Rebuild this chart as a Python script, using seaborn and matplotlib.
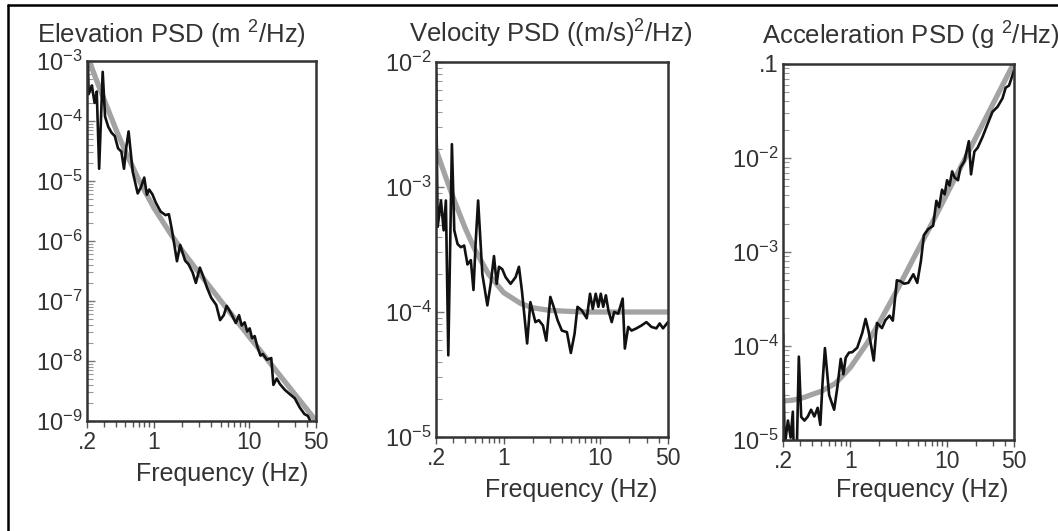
import math
import matplotlib
matplotlib.use("Agg")
import matplotlib.pyplot as plt
from matplotlib.lines import Line2D
from matplotlib.ticker import LogLocator, NullFormatter
import seaborn as sns

# measured spectra (same frequency bins in all three panels)
freq = [0.200, 0.208, 0.225, 0.240, 0.253, 0.268, 0.292, 0.309, 0.334, 0.361,
        0.391, 0.423, 0.458, 0.488, 0.515, 0.545, 0.603, 0.679, 0.735, 0.795,
        0.847, 0.895, 0.968, 1.048, 1.18, 1.33, 1.44, 1.55, 1.75, 1.89,
        2.13, 2.31, 2.55, 2.76, 3.04, 3.29, 3.61, 4.00, 4.51, 4.95,
        5.41, 5.80, 6.43, 7.23, 7.82, 8.34, 8.95, 9.53, 10.1, 10.7,
        11.4, 12.1, 13.1, 13.9, 15.3, 17.0, 17.9, 19.4, 21.0, 23.6,
        26.6, 29.9, 33.7, 37.9, 41.0, 44.4, 50.0]

elevation = [5.2e-3, 2.8e-4, 3.9e-4, 2.0e-4, 3.1e-4, 1.6e-5, 6.6e-4, 1.19e-4, 8.0e-5, 6.4e-5,
             5.6e-5, 3.5e-5, 3.1e-5, 1.6e-5, 3.6e-5, 6.7e-5, 1.41e-5, 6.2e-6, 7.9e-6, 1.14e-5,
             5.9e-6, 7.2e-6, 6.0e-6, 4.4e-6, 3.1e-6, 2.7e-6, 2.8e-6, 1.53e-6, 4.6e-7, 8.6e-7,
             4.7e-7, 4.1e-7, 3.0e-7, 2.0e-7, 3.6e-7, 2.6e-7, 1.67e-7, 1.13e-7, 8.6e-8, 4.8e-8,
             5.8e-8, 8.3e-8, 6.3e-8, 4.3e-8, 5.8e-8, 3.9e-8, 4.4e-8, 3.1e-8, 3.5e-8, 2.4e-8,
             2.6e-8, 1.78e-8, 1.23e-8, 1.31e-8, 1.05e-8, 1.12e-8, 4.0e-9, 5.1e-9, 4.1e-9, 3.3e-9,
             2.8e-9, 2.4e-9, 1.69e-9, 1.30e-9, 1.22e-9, 9.5e-10, 8.4e-10]

velocity = [8.2e-3, 4.8e-4, 7.8e-4, 4.5e-4, 7.8e-4, 4.5e-5, 2.2e-3, 4.5e-4, 3.5e-4, 3.3e-4,
            3.4e-4, 2.4e-4, 2.6e-4, 1.5e-4, 3.7e-4, 7.8e-4, 2.0e-4, 1.13e-4, 1.68e-4, 2.8e-4,
            1.68e-4, 2.3e-4, 2.2e-4, 1.9e-4, 1.68e-4, 1.9e-4, 2.3e-4, 1.45e-4, 5.6e-5, 1.2e-4,
            8.3e-5, 8.6e-5, 7.8e-5, 5.9e-5, 1.32e-4, 1.10e-4, 8.6e-5, 7.1e-5, 6.9e-5, 4.7e-5,
            6.7e-5, 1.10e-4, 1.03e-4, 8.9e-5, 1.40e-4, 1.06e-4, 1.40e-4, 1.10e-4, 1.40e-4, 1.10e-4,
            1.36e-4, 1.03e-4, 8.3e-5, 1.0e-4, 9.7e-5, 1.28e-4, 5.1e-5, 7.6e-5, 7.1e-5, 7.4e-5,
            7.8e-5, 8.3e-5, 7.6e-5, 7.4e-5, 8.1e-5, 7.4e-5, 8.3e-5]

acceleration = [1.35e-4, 8.5e-6, 1.61e-5, 1.06e-5, 2.0e-5, 1.33e-6, 7.7e-5, 1.76e-5, 1.61e-5, 1.77e-5,
                2.1e-5, 1.78e-5, 2.2e-5, 1.45e-5, 4.1e-5, 9.5e-5, 3.0e-5, 2.1e-5, 3.7e-5, 7.3e-5,
                5.0e-5, 7.5e-5, 8.5e-5, 8.6e-5, 9.6e-5, 1.38e-4, 1.94e-4, 1.42e-4, 7.0e-5, 1.76e-4,
                1.55e-4, 1.88e-4, 2.1e-4, 1.86e-4, 5.0e-4, 4.9e-4, 4.6e-4, 4.7e-4, 5.8e-4, 4.7e-4,
                8.1e-4, 1.51e-3, 1.75e-3, 1.90e-3, 3.5e-3, 3.0e-3, 4.6e-3, 4.1e-3, 5.8e-3, 5.1e-3,
                7.2e-3, 6.2e-3, 5.8e-3, 7.9e-3, 9.3e-3, 1.51e-2, 6.7e-3, 1.17e-2, 1.29e-2, 1.68e-2,
                2.3e-2, 3.1e-2, 3.5e-2, 4.3e-2, 5.6e-2, 5.9e-2, 8.5e-2]

# fitted model curves (grey)
fit_freq = [0.2, 0.25, 0.3, 0.35, 0.4, 0.5, 0.7, 1, 1.5, 2, 3, 5, 7, 10, 15, 20, 30, 50]
elevation_fit = [1.26e-3, 4.9e-4, 2.34e-4, 1.26e-4, 7.4e-5, 3.2e-5, 1.03e-5, 3.6e-6, 1.32e-6,
                 6.8e-7, 2.9e-7, 1.02e-7, 5.2e-8, 2.53e-8, 1.13e-8, 6.3e-9, 2.8e-9, 1.01e-9]
velocity_fit = [2.0e-3, 1.22e-3, 8.3e-4, 6.1e-4, 4.7e-4, 3.2e-4, 2.0e-4, 1.43e-4, 1.17e-4,
                1.08e-4, 1.03e-4, 1.01e-4, 1.0e-4, 1.0e-4, 1.0e-4, 1.0e-4, 1.0e-4, 1.0e-4]
acceleration_fit = [2.6e-5, 2.65e-5, 2.75e-5, 2.9e-5, 3.05e-5, 3.3e-5, 4.0e-5, 5.9e-5, 1.08e-4,
                    1.77e-4, 3.8e-4, 1.04e-3, 2.0e-3, 4.1e-3, 9.2e-3, 1.64e-2, 3.7e-2, 0.103]

titles = [r'Elevation PSD (m $^{2}$/Hz)', r'Velocity PSD ((m/s)$^{2}$/Hz)', r'Acceleration PSD (g $^{2}$/Hz)']
x_ticks = [0.2, 1, 10, 50]
x_tick_labels = ['.2', '1', '10', '50']
elev_yticks = [1e-9, 1e-8, 1e-7, 1e-6, 1e-5, 1e-4, 1e-3]
vel_yticks = [1e-5, 1e-4, 1e-3, 1e-2]
acc_yticks = [1e-5, 1e-4, 1e-3, 1e-2, 1e-1]
acc_ytick_labels = [r'$\mathdefault{10^{-5}}$', r'$\mathdefault{10^{-4}}$', r'$\mathdefault{10^{-3}}$',
                    r'$\mathdefault{10^{-2}}$', '.1']

sns.set_style("ticks")
plt.rcParams['font.family'] = ['Liberation Sans', 'DejaVu Sans']
plt.rcParams['mathtext.fontset'] = 'custom'
plt.rcParams['mathtext.rm'] = 'Liberation Sans'
plt.rcParams['mathtext.it'] = 'Liberation Sans:italic'

W, H = 1058, 531
TXT = '#333333'
fig = plt.figure(figsize=(W / 100, H / 100), dpi=100)

# panel boxes in pixels: left, right, top, bottom
boxes = [(87, 316, 61, 421), (436, 668, 62, 437), (783, 1014, 64, 440)]
panels = [
    (freq, elevation, elevation_fit, elev_yticks, None, (1e-9, 1e-3)),
    (freq, velocity, velocity_fit, vel_yticks, None, (1e-5, 1e-2)),
    (freq, acceleration, acceleration_fit, acc_yticks, acc_ytick_labels, (1e-5, 1e-1)),
]
title_pos = [(171, 35), (551, 34), (911, 36)]
xlabel_pos = [(222, 474), (571, 490), (922, 490)]

for i, (box, panel) in enumerate(zip(boxes, panels)):
    l, r, t, b = box
    ax = fig.add_axes([l / W, 1 - b / H, (r - l) / W, (b - t) / H])
    x, y, yfit, yt, ytl, ylim = panel

    sns.lineplot(x=fit_freq, y=yfit, ax=ax, color='#a3a3a3', lw=3.8, estimator=None, sort=False)
    sns.lineplot(x=x, y=y, ax=ax, color='#111111', lw=1.9, estimator=None, sort=False)

    ax.set_xscale('log')
    ax.set_yscale('log')
    ax.set_xlim(0.2, 50)
    ax.set_ylim(*ylim)

    ax.set_xticks(x_ticks, x_tick_labels)
    ax.xaxis.set_minor_locator(LogLocator(base=10, subs=(2, 3, 4, 5, 6, 7, 8, 9), numticks=50))
    ax.xaxis.set_minor_formatter(NullFormatter())
    if ytl is None:
        ytl = [r'$\mathdefault{10^{%d}}$' % round(math.log10(v)) for v in yt]
    ax.set_yticks(yt, ytl)
    ax.yaxis.set_minor_locator(LogLocator(base=10, subs=(2, 3, 4, 5, 6, 7, 8, 9), numticks=50))
    ax.yaxis.set_minor_formatter(NullFormatter())

    ax.tick_params(axis='x', direction='out', length=5, width=1, colors='#555555',
                   labelsize=16.5, labelcolor=TXT, pad=2)
    ax.tick_params(axis='x', which='minor', direction='out', length=4, width=1, colors='#555555')
    ax.tick_params(axis='y', direction='in', length=6, width=1, colors='#777777',
                   labelsize=17, labelcolor=TXT, pad=3)
    ax.tick_params(axis='y', which='minor', direction='in', length=4, width=0.8, colors='#999999')

    for s in ax.spines.values():
        s.set_color('#333333')
        s.set_linewidth(1.8)
    ax.set_xlabel('')
    ax.set_ylabel('')

    fig.text(title_pos[i][0] / W, 1 - title_pos[i][1] / H, titles[i], ha='center', va='center',
             fontsize=18.5, color=TXT)
    fig.text(xlabel_pos[i][0] / W, 1 - xlabel_pos[i][1] / H, 'Frequency (Hz)', ha='center',
             va='center', fontsize=18, color=TXT)

# outer frame (top and left edges visible in the reference)
fig.add_artist(Line2D([8 / W, 8 / W], [0, 1 - 5 / H], color='black', lw=1.8))
fig.add_artist(Line2D([8 / W, 1], [1 - 5 / H, 1 - 5 / H], color='black', lw=1.8))

fig.savefig('out.png', dpi=100)
